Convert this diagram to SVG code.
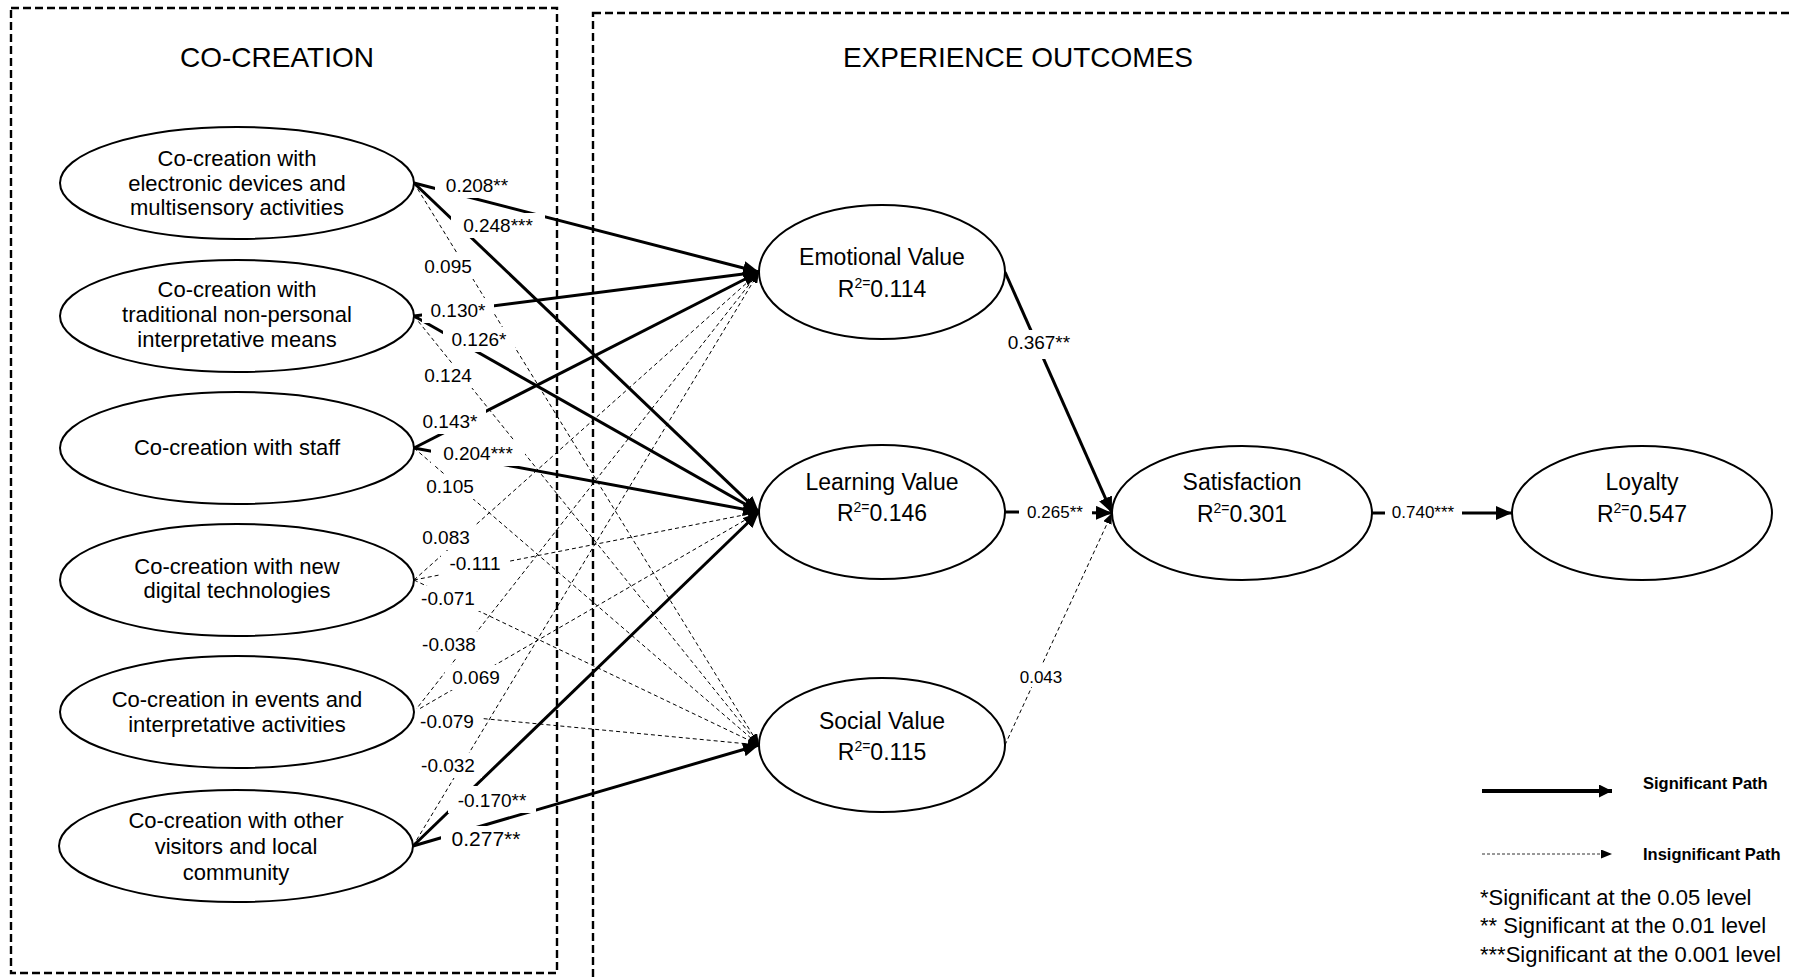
<svg xmlns="http://www.w3.org/2000/svg" width="1793" height="977" viewBox="0 0 1793 977">
  <style>
    text { font-family: "Liberation Sans", Arial, sans-serif; fill: #000; }
    .box { fill: none; stroke: #000; stroke-width: 2.4; stroke-dasharray: 8 4; }
    .node { fill: #fff; stroke: #000; stroke-width: 2; }
    .sig { fill: none; stroke: #000; stroke-width: 3; }
    .ins { fill: none; stroke: #000; stroke-width: 1; stroke-dasharray: 4 3; }
    .bg { fill: #fff; }
    .lbl { font-size: 19px; text-anchor: middle; }
    .lbls { font-size: 17px; text-anchor: middle; }
    .title { font-size: 28px; text-anchor: middle; }
    .ltxt { font-size: 22px; text-anchor: middle; }
    .rtxt { font-size: 23px; text-anchor: middle; }
    .sup { font-size: 14px; }
    .legend { font-size: 16.5px; font-weight: bold; }
    .note { font-size: 22px; }
  </style>
  <defs>
    <marker id="ah" markerUnits="userSpaceOnUse" markerWidth="16" markerHeight="14" refX="16" refY="7" orient="auto">
      <path d="M0,0 L16,7 L0,14 z" fill="#000"/>
    </marker>
    <marker id="ahs" markerUnits="userSpaceOnUse" markerWidth="11" markerHeight="9" refX="11" refY="4.5" orient="auto">
      <path d="M0,0 L11,4.5 L0,9 z" fill="#000"/>
    </marker>
    <marker id="ahl" markerUnits="userSpaceOnUse" markerWidth="13" markerHeight="13" refX="13" refY="6.5" orient="auto">
      <path d="M0,0 L13,6.5 L0,13 z" fill="#000"/>
    </marker>
  </defs>

  <rect width="1793" height="977" fill="#fff"/>

  <!-- section frames -->
  <g id="frames">
    <rect class="box" x="11" y="8" width="546" height="965"/>
    <rect class="box" x="593" y="13" width="1300" height="1000"/>
    <text class="title" x="277" y="67">CO-CREATION</text>
    <text class="title" x="1018" y="67">EXPERIENCE OUTCOMES</text>
  </g>

  <!-- paths between constructs -->
  <g id="connectors">
    <!-- insignificant paths -->
    <line class="ins" marker-end="url(#ahs)" x1="414" y1="183" x2="759" y2="745"/>
    <line class="ins" marker-end="url(#ahs)" x1="414" y1="316" x2="759" y2="745"/>
    <line class="ins" marker-end="url(#ahs)" x1="414" y1="448" x2="759" y2="745"/>
    <line class="ins" marker-end="url(#ahs)" x1="414" y1="580" x2="759" y2="272"/>
    <line class="ins" marker-end="url(#ahs)" x1="414" y1="580" x2="759" y2="512"/>
    <line class="ins" marker-end="url(#ahs)" x1="414" y1="580" x2="759" y2="745"/>
    <line class="ins" marker-end="url(#ahs)" x1="414" y1="712" x2="759" y2="272"/>
    <line class="ins" marker-end="url(#ahs)" x1="414" y1="712" x2="759" y2="512"/>
    <line class="ins" marker-end="url(#ahs)" x1="414" y1="712" x2="759" y2="745"/>
    <line class="ins" marker-end="url(#ahs)" x1="413" y1="846" x2="759" y2="272"/>
    <line class="ins" marker-end="url(#ahs)" x1="1005" y1="745" x2="1112" y2="513"/>

    <!-- significant paths -->
    <line class="sig" marker-end="url(#ah)" x1="414" y1="183" x2="759" y2="272"/>
    <line class="sig" marker-end="url(#ah)" x1="414" y1="183" x2="759" y2="512"/>
    <line class="sig" marker-end="url(#ah)" x1="414" y1="316" x2="759" y2="272"/>
    <line class="sig" marker-end="url(#ah)" x1="414" y1="316" x2="759" y2="512"/>
    <line class="sig" marker-end="url(#ah)" x1="414" y1="448" x2="759" y2="272"/>
    <line class="sig" marker-end="url(#ah)" x1="414" y1="448" x2="759" y2="512"/>
    <line class="sig" marker-end="url(#ah)" x1="413" y1="846" x2="759" y2="512"/>
    <line class="sig" marker-end="url(#ah)" x1="413" y1="846" x2="759" y2="745"/>
    <line class="sig" marker-end="url(#ah)" x1="1005" y1="272" x2="1112" y2="513"/>
    <line class="sig" marker-end="url(#ah)" x1="1005" y1="512" x2="1112" y2="513"/>
    <line class="sig" marker-end="url(#ah)" x1="1372" y1="513" x2="1512" y2="513"/>

    <!-- path coefficients -->
    <g id="coefficients">
      <rect class="bg" x="435" y="173" width="84" height="25"/>
      <text class="lbl" x="477" y="192">0.208**</text>
      <rect class="bg" x="451" y="213" width="94" height="25"/>
      <text class="lbl" x="498" y="232">0.248***</text>
      <rect class="bg" x="417" y="254" width="62" height="25"/>
      <text class="lbl" x="448" y="273">0.095</text>
      <rect class="bg" x="422" y="298" width="72" height="25"/>
      <text class="lbl" x="458" y="317">0.130*</text>
      <rect class="bg" x="443" y="327" width="72" height="25"/>
      <text class="lbl" x="479" y="346">0.126*</text>
      <rect class="bg" x="417" y="363" width="62" height="25"/>
      <text class="lbl" x="448" y="382">0.124</text>
      <rect class="bg" x="414" y="409" width="72" height="25"/>
      <text class="lbl" x="450" y="428">0.143*</text>
      <rect class="bg" x="431" y="441" width="94" height="25"/>
      <text class="lbl" x="478" y="460">0.204***</text>
      <rect class="bg" x="419" y="474" width="62" height="25"/>
      <text class="lbl" x="450" y="493">0.105</text>
      <rect class="bg" x="415" y="525" width="62" height="25"/>
      <text class="lbl" x="446" y="544">0.083</text>
      <rect class="bg" x="441" y="551" width="68" height="25"/>
      <text class="lbl" x="475" y="570">-0.111</text>
      <rect class="bg" x="414" y="586" width="68" height="25"/>
      <text class="lbl" x="448" y="605">-0.071</text>
      <rect class="bg" x="415" y="632" width="68" height="25"/>
      <text class="lbl" x="449" y="651">-0.038</text>
      <rect class="bg" x="445" y="665" width="62" height="25"/>
      <text class="lbl" x="476" y="684">0.069</text>
      <rect class="bg" x="413" y="709" width="68" height="25"/>
      <text class="lbl" x="447" y="728">-0.079</text>
      <rect class="bg" x="414" y="753" width="68" height="25"/>
      <text class="lbl" x="448" y="772">-0.032</text>
      <rect class="bg" x="448" y="786" width="88" height="27"/>
      <text class="lbl" x="492" y="807">-0.170**</text>
      <rect class="bg" x="441" y="826" width="90" height="27"/>
      <text class="lbl" x="486" y="846" style="font-size:21px">0.277**</text>

      <rect class="bg" x="1001" y="330" width="76" height="29"/>
      <text class="lbl" x="1039" y="349">0.367**</text>
      <rect class="bg" x="1019" y="500" width="73" height="24"/>
      <text class="lbls" x="1055" y="518">0.265**</text>
      <rect class="bg" x="1017" y="663" width="48" height="24"/>
      <text class="lbls" x="1041" y="683">0.043</text>
      <rect class="bg" x="1385" y="500" width="77" height="24"/>
      <text class="lbls" x="1423" y="518">0.740***</text>
    </g>
  </g>

  <!-- co-creation constructs -->
  <g id="cc-devices">
    <ellipse class="node" cx="237" cy="183" rx="177" ry="56"/>
    <text class="ltxt" x="237" y="166">Co-creation with</text>
    <text class="ltxt" x="237" y="191">electronic devices and</text>
    <text class="ltxt" x="237" y="215">multisensory activities</text>
  </g>
  <g id="cc-traditional">
    <ellipse class="node" cx="237" cy="316" rx="177" ry="56"/>
    <text class="ltxt" x="237" y="297">Co-creation with</text>
    <text class="ltxt" x="237" y="322">traditional non-personal</text>
    <text class="ltxt" x="237" y="347">interpretative means</text>
  </g>
  <g id="cc-staff">
    <ellipse class="node" cx="237" cy="448" rx="177" ry="56"/>
    <text class="ltxt" x="237" y="455">Co-creation with staff</text>
  </g>
  <g id="cc-digital">
    <ellipse class="node" cx="237" cy="580" rx="177" ry="56"/>
    <text class="ltxt" x="237" y="574">Co-creation with new</text>
    <text class="ltxt" x="237" y="598">digital technologies</text>
  </g>
  <g id="cc-events">
    <ellipse class="node" cx="237" cy="712" rx="177" ry="56"/>
    <text class="ltxt" x="237" y="707">Co-creation in events and</text>
    <text class="ltxt" x="237" y="732">interpretative activities</text>
  </g>
  <g id="cc-visitors">
    <ellipse class="node" cx="236" cy="846" rx="177" ry="56"/>
    <text class="ltxt" x="236" y="828">Co-creation with other</text>
    <text class="ltxt" x="236" y="854">visitors and local</text>
    <text class="ltxt" x="236" y="880">community</text>
  </g>

  <!-- experience outcome constructs -->
  <g id="emotional-value">
    <ellipse class="node" cx="882" cy="272" rx="123" ry="67"/>
    <text class="rtxt" x="882" y="265">Emotional Value</text>
    <text class="rtxt" x="882" y="297">R<tspan class="sup" dy="-9">2=</tspan><tspan dy="9">0.114</tspan></text>
  </g>
  <g id="learning-value">
    <ellipse class="node" cx="882" cy="512" rx="123" ry="67"/>
    <text class="rtxt" x="882" y="490">Learning Value</text>
    <text class="rtxt" x="882" y="521">R<tspan class="sup" dy="-9">2=</tspan><tspan dy="9">0.146</tspan></text>
  </g>
  <g id="social-value">
    <ellipse class="node" cx="882" cy="745" rx="123" ry="67"/>
    <text class="rtxt" x="882" y="729">Social Value</text>
    <text class="rtxt" x="882" y="760">R<tspan class="sup" dy="-9">2=</tspan><tspan dy="9">0.115</tspan></text>
  </g>
  <g id="satisfaction">
    <ellipse class="node" cx="1242" cy="513" rx="130" ry="67"/>
    <text class="rtxt" x="1242" y="490">Satisfaction</text>
    <text class="rtxt" x="1242" y="522">R<tspan class="sup" dy="-9">2=</tspan><tspan dy="9">0.301</tspan></text>
  </g>
  <g id="loyalty">
    <ellipse class="node" cx="1642" cy="513" rx="130" ry="67"/>
    <text class="rtxt" x="1642" y="490">Loyalty</text>
    <text class="rtxt" x="1642" y="522">R<tspan class="sup" dy="-9">2=</tspan><tspan dy="9">0.547</tspan></text>
  </g>

  <!-- key -->
  <g id="legend">
    <line x1="1482" y1="791" x2="1612" y2="791" stroke="#000" stroke-width="4" marker-end="url(#ahl)"/>
    <text class="legend" x="1643" y="789">Significant Path</text>
    <line x1="1482" y1="854" x2="1612" y2="854" stroke="#333" stroke-width="1" stroke-dasharray="3 2" marker-end="url(#ahs)"/>
    <text class="legend" x="1643" y="860">Insignificant Path</text>
    <text class="note" x="1480" y="905">*Significant at the 0.05 level</text>
    <text class="note" x="1480" y="933">** Significant at the 0.01 level</text>
    <text class="note" x="1480" y="962">***Significant at the 0.001 level</text>
  </g>
</svg>
